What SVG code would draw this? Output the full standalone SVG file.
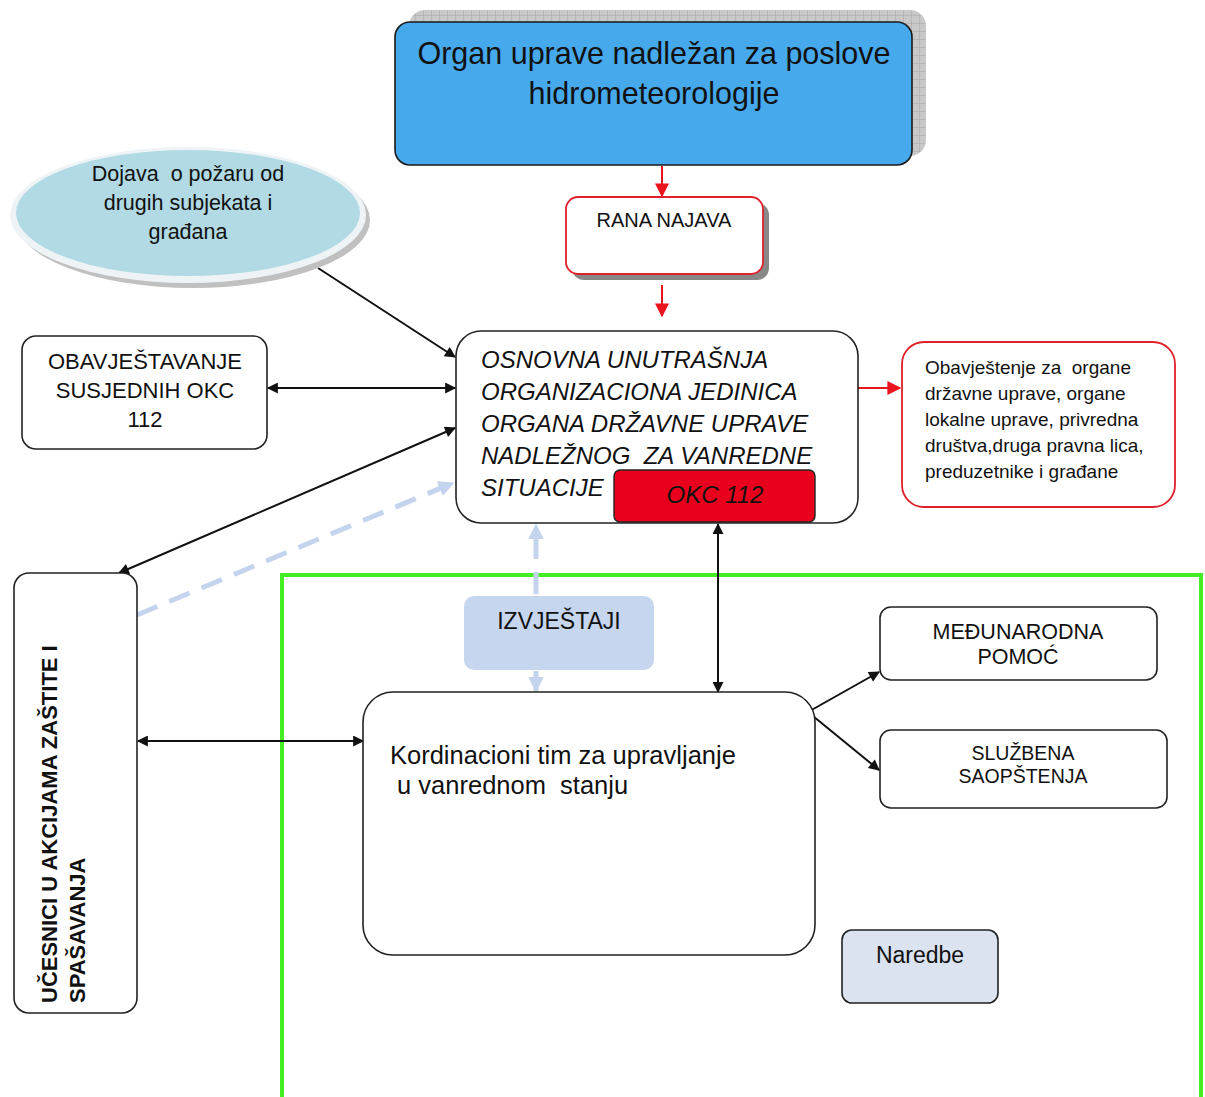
<svg xmlns="http://www.w3.org/2000/svg" width="1205" height="1097" viewBox="0 0 1205 1097">
<style>
text{font-family:"Liberation Sans",Arial,sans-serif;fill:#111}
.box{fill:#fff;stroke:#222;stroke-width:1.6}
.red{fill:#fff;stroke:#e0202a;stroke-width:1.8}
.c{text-anchor:middle}
.blk{stroke:#111;stroke-width:2;fill:none}
.rd{stroke:#e8141e;stroke-width:2;fill:none}
.lb{stroke:#c4d4ee;stroke-width:5;fill:none}
</style>
<defs>
<pattern id="grid" width="8" height="8" patternUnits="userSpaceOnUse">
<rect width="8" height="8" fill="#c8c8c8"/>
<path d="M8 0V8M0 8H8" stroke="#9a9a9a" stroke-width="0.8"/>
</pattern>
<marker id="ab" viewBox="0 0 10 10" refX="9" refY="5" markerWidth="13" markerHeight="11" orient="auto-start-reverse" markerUnits="userSpaceOnUse"><path d="M0 0L10 5L0 10z" fill="#111"/></marker>
<marker id="ar" viewBox="0 0 10 10" refX="9" refY="5" markerWidth="14" markerHeight="14" orient="auto" markerUnits="userSpaceOnUse"><path d="M0 0L10 5L0 10z" fill="#e8141e"/></marker>
<marker id="al" viewBox="0 0 10 10" refX="9" refY="5" markerWidth="16" markerHeight="16" orient="auto" markerUnits="userSpaceOnUse"><path d="M0 0L10 5L0 10z" fill="#c4d4ee"/></marker>
</defs>
<rect width="1205" height="1097" fill="#fff"/>

<g id="container">
<rect x="282" y="575" width="919" height="524" fill="none" stroke="#44ee22" stroke-width="4"/>
</g>

<g id="connectors">
<line class="rd" x1="662" y1="166" x2="662" y2="196" marker-end="url(#ar)"/>
<line class="rd" x1="662" y1="285" x2="662" y2="316" marker-end="url(#ar)"/>
<line class="rd" x1="858" y1="388" x2="900" y2="388" marker-end="url(#ar)"/>
<line class="blk" x1="318" y1="268" x2="455" y2="357" marker-end="url(#ab)"/>
<line class="blk" x1="268" y1="388" x2="455" y2="388" marker-start="url(#ab)" marker-end="url(#ab)"/>
<line class="blk" x1="119" y1="573" x2="455" y2="428" marker-start="url(#ab)" marker-end="url(#ab)"/>
<line class="lb" x1="137" y1="615" x2="453" y2="483" stroke-dasharray="22 13" marker-end="url(#al)"/>
<line class="lb" x1="536" y1="594" x2="536" y2="525" stroke-dasharray="22 13" marker-end="url(#al)"/>
<line class="lb" x1="536" y1="671" x2="536" y2="691" marker-end="url(#al)"/>
<line class="blk" x1="718" y1="524" x2="718" y2="692" marker-start="url(#ab)" marker-end="url(#ab)"/>
<line class="blk" x1="138" y1="741" x2="363" y2="741" marker-start="url(#ab)" marker-end="url(#ab)"/>
<line class="blk" x1="808" y1="712" x2="879" y2="672" marker-end="url(#ab)"/>
<line class="blk" x1="808" y1="712" x2="879" y2="770" marker-end="url(#ab)"/>
</g>

<g id="organ-hidro">
<rect x="409" y="10" width="517" height="146" rx="16" fill="url(#grid)"/>
<rect x="395" y="22" width="517" height="143" rx="15" fill="#46a9ec" stroke="#1a1a1a" stroke-width="1.6"/>
<text x="654" y="64" class="c" font-size="30.5">Organ uprave nadležan za poslove</text>
<text x="654" y="104" class="c" font-size="30.5">hidrometeorologije</text>
</g>

<g id="rana-najava">
<rect x="572" y="203" width="197" height="77" rx="12" fill="#888"/>
<rect x="566" y="197" width="197" height="77" rx="12" class="red"/>
<text x="664" y="227" class="c" font-size="20">RANA NAJAVA</text>
</g>

<g id="dojava">
<ellipse cx="193" cy="220" rx="177" ry="68" fill="#c0c0c0"/>
<ellipse cx="188" cy="215" rx="178" ry="68" fill="#eef4f6"/>
<ellipse cx="188" cy="213" rx="172" ry="63" fill="#b1dae4"/>
<text x="188" y="181" class="c" font-size="21.5" xml:space="preserve">Dojava  o požaru od</text>
<text x="188" y="210" class="c" font-size="21.5">drugih subjekata i</text>
<text x="188" y="239" class="c" font-size="21.5">građana</text>
</g>

<g id="obavjestavanje-okc">
<rect x="22" y="336" width="245" height="113" rx="14" class="box"/>
<text x="145" y="369" class="c" font-size="22">OBAVJEŠTAVANJE</text>
<text x="145" y="398" class="c" font-size="22">SUSJEDNIH OKC</text>
<text x="145" y="427" class="c" font-size="22">112</text>
</g>

<g id="osnovna-jedinica">
<rect x="456" y="331" width="402" height="192" rx="25" class="box"/>
<g font-size="24" font-style="italic">
<text x="481" y="368">OSNOVNA UNUTRAŠNJA</text>
<text x="481" y="400">ORGANIZACIONA JEDINICA</text>
<text x="481" y="432">ORGANA DRŽAVNE UPRAVE</text>
<text x="481" y="464" xml:space="preserve">NADLEŽNOG  ZA VANREDNE</text>
<text x="481" y="496">SITUACIJE</text>
</g>
</g>

<g id="okc-112">
<rect x="614" y="470" width="201" height="52" rx="6" fill="#e8001c" stroke="#222" stroke-width="1.4"/>
<text x="715" y="503" class="c" font-size="24" font-style="italic">OKC 112</text>
</g>

<g id="obavjestenje">
<rect x="902" y="342" width="273" height="165" rx="22" class="red"/>
<g font-size="19">
<text x="925" y="374" xml:space="preserve">Obavještenje za  organe</text>
<text x="925" y="400">državne uprave, organe</text>
<text x="925" y="426">lokalne uprave, privredna</text>
<text x="925" y="452">društva,druga pravna lica,</text>
<text x="925" y="478">preduzetnike i građane</text>
</g>
</g>

<g id="ucesnici">
<rect x="14" y="573" width="123" height="440" rx="15" class="box"/>
<text transform="translate(57,1003) rotate(-90)" font-size="22" font-weight="bold">UČESNICI U AKCIJAMA ZAŠTITE I</text>
<text transform="translate(85,1003) rotate(-90)" font-size="22" font-weight="bold">SPAŠAVANJA</text>
</g>

<g id="izvjestaji">
<rect x="464" y="596" width="190" height="74" rx="10" fill="#c6d6ee"/>
<text x="559" y="629" class="c" font-size="23">IZVJEŠTAJI</text>
</g>

<g id="kordinacioni-tim">
<rect x="363" y="692" width="452" height="263" rx="30" class="box"/>
<text x="390" y="764" font-size="25.5">Kordinacioni tim za upravljanje</text>
<text x="390" y="794" font-size="25.5" xml:space="preserve"> u vanrednom  stanju</text>
</g>

<g id="medjunarodna-pomoc">
<rect x="880" y="607" width="277" height="73" rx="11" class="box"/>
<text x="1018" y="639" class="c" font-size="21.5">MEĐUNARODNA</text>
<text x="1018" y="664" class="c" font-size="21.5">POMOĆ</text>
</g>

<g id="sluzbena-saopstenja">
<rect x="880" y="730" width="287" height="78" rx="11" class="box"/>
<text x="1023" y="760" class="c" font-size="19.5">SLUŽBENA</text>
<text x="1023" y="783" class="c" font-size="19.5">SAOPŠTENJA</text>
</g>

<g id="naredbe">
<rect x="842" y="930" width="156" height="73" rx="10" fill="#dae3ef" stroke="#222" stroke-width="1.6"/>
<text x="920" y="963" class="c" font-size="23">Naredbe</text>
</g>
</svg>
